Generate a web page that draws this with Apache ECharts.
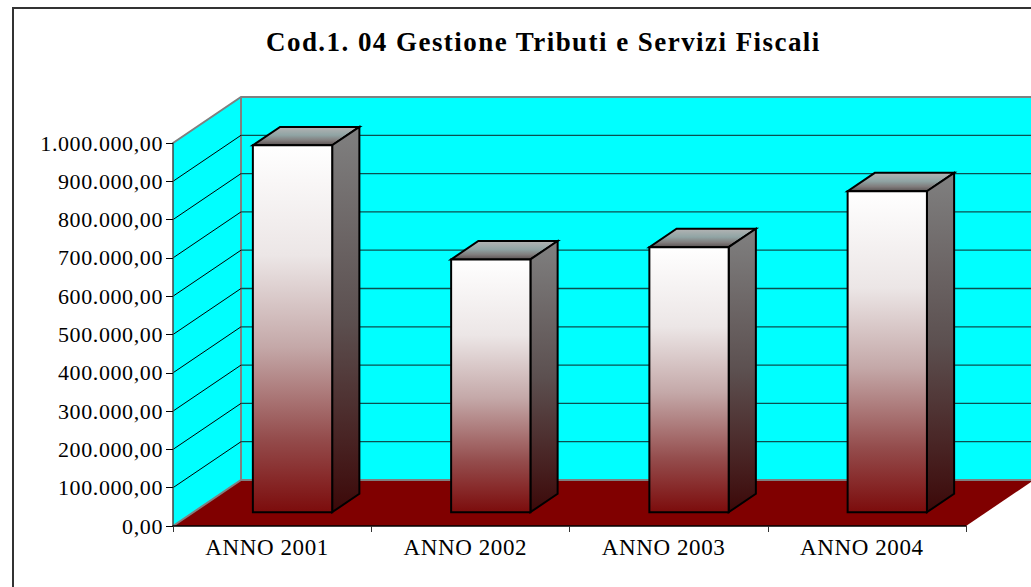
<!DOCTYPE html>
<html>
<head>
<meta charset="utf-8">
<script src="https://cdn.jsdelivr.net/npm/echarts@6/dist/echarts.min.js"></script>
<style>
html, body { margin: 0; padding: 0; background: #fff; overflow: hidden; }
#main { width: 1031px; height: 587px; }
/* the original text is set wider than the font's own spacing */
#main text { letter-spacing: 0.6px; }
#main text[style*="bold"] { letter-spacing: 1.45px; }
</style>
</head>
<body>
<div id="main"></div>
<script>
const titleText = 'Cod.1. 04 Gestione Tributi e Servizi Fiscali'
const categories = ['ANNO 2001', 'ANNO 2002', 'ANNO 2003', 'ANNO 2004']
const barValues = [958000, 660000, 692000, 838000]
const tickValues = [100000, 200000, 300000, 400000, 500000, 600000, 700000, 800000, 900000]
const tickLabels = ['0,00', '100.000,00', '200.000,00', '300.000,00', '400.000,00', '500.000,00',
    '600.000,00', '700.000,00', '800.000,00', '900.000,00', '1.000.000,00']

// fake 3d depth of the chart box, in px
const depthX = 68
const depthY = -46
const fontName = '"Liberation Serif", serif'

function vGrad (stops) {
    return new echarts.graphic.LinearGradient(0, 0, 0, 1, stops)
}

function renderWalls (params, api) {
    const c = params.coordSys
    const left = c.x
    const right = c.x + c.width
    const top = c.y
    const bottom = c.y + c.height
    const edge = { stroke: '#808080', lineWidth: 2, fill: null }
    return {
        type: 'group',
        children: [
            { type: 'polygon', shape: { points: [[left + depthX, top + depthY], [right + depthX, top + depthY], [right + depthX, bottom + depthY], [left + depthX, bottom + depthY]] }, style: { fill: '#00ffff' } },
            { type: 'polygon', shape: { points: [[left, bottom], [left, top], [left + depthX, top + depthY], [left + depthX, bottom + depthY]] }, style: { fill: '#00ffff' } },
            { type: 'polygon', shape: { points: [[left, bottom], [right, bottom], [right + depthX, bottom + depthY], [left + depthX, bottom + depthY]] }, style: { fill: '#800000' } },
            { type: 'polyline', shape: { points: [[left, top], [left + depthX, top + depthY], [right + depthX, top + depthY]] }, style: edge },
            { type: 'polyline', shape: { points: [[left, bottom], [left + depthX, bottom + depthY], [right + depthX, bottom + depthY]] }, style: edge },
            { type: 'line', shape: { x1: left + depthX, y1: top + depthY, x2: left + depthX, y2: bottom + depthY }, style: edge }
        ]
    }
}

function renderGridLine (params, api) {
    const c = params.coordSys
    const y = api.coord([0, api.value(1)])[1]
    const left = c.x
    const right = c.x + c.width
    return {
        type: 'group',
        children: [
            { type: 'line', shape: { x1: left, y1: y, x2: left + depthX, y2: y + depthY }, style: { stroke: '#000', lineWidth: 1 } },
            { type: 'line', shape: { x1: left + depthX, y1: y + depthY, x2: right + depthX, y2: y + depthY }, style: { stroke: '#0b5050', lineWidth: 1.3 } }
        ]
    }
}

function renderBar (params, api) {
    const band = api.size([1, 0])[0]
    const w = band * 0.4
    const shiftX = depthX * 0.3
    const shiftY = depthY * 0.3
    const dx = depthX * 0.4
    const dy = depthY * 0.4
    const topPt = api.coord([api.value(0), api.value(1)])
    const basePt = api.coord([api.value(0), 0])
    const x0 = topPt[0] - w / 2 + shiftX
    const x1 = x0 + w
    const yTop = topPt[1] + shiftY
    const yBase = basePt[1] + shiftY
    const line = { stroke: '#000', lineWidth: 2, lineJoin: 'miter' }
    return {
        type: 'group',
        children: [
            {
                type: 'polygon',
                shape: { points: [[x0, yTop], [x1, yTop], [x1 + dx, yTop + dy], [x0 + dx, yTop + dy]] },
                style: Object.assign({ fill: vGrad([
                    { offset: 0, color: '#b4b4b4' },
                    { offset: 0.45, color: '#90a4a4' },
                    { offset: 0.75, color: '#807c7c' },
                    { offset: 1, color: '#585050' }
                ]) }, line)
            },
            {
                type: 'polygon',
                shape: { points: [[x1, yTop], [x1 + dx, yTop + dy], [x1 + dx, yBase + dy], [x1, yBase]] },
                style: Object.assign({ fill: vGrad([
                    { offset: 0, color: '#808080' },
                    { offset: 0.5, color: '#5c5050' },
                    { offset: 1, color: '#3c0808' }
                ]) }, line)
            },
            {
                type: 'rect',
                shape: { x: x0, y: yTop, width: w, height: yBase - yTop },
                style: Object.assign({ fill: vGrad([
                    { offset: 0, color: '#ffffff' },
                    { offset: 0.3, color: '#ece6e6' },
                    { offset: 0.55, color: '#c4a8a8' },
                    { offset: 0.8, color: '#944c4c' },
                    { offset: 1, color: '#7c0c0c' }
                ]) }, line)
            }
        ]
    }
}

const myChart = echarts.init(document.getElementById('main'), null, { renderer: 'svg' })
myChart.setOption({
    animation: false,
    backgroundColor: '#fff',
    title: {
        text: titleText,
        left: 261,
        top: 23,
        textStyle: { fontFamily: fontName, fontSize: 27, fontWeight: 'bold', color: '#000' }
    },
    grid: { left: 173, right: 65, top: 143, bottom: 61 },
    xAxis: {
        type: 'category',
        data: categories,
        z: 10,
        axisLine: { lineStyle: { color: '#000', width: 1.5 } },
        axisTick: { show: true, length: 6, lineStyle: { color: '#333' } },
        axisLabel: { color: '#000', fontFamily: fontName, fontSize: 23, margin: 10, padding: [0, 10, 0, 0] }
    },
    yAxis: {
        type: 'value',
        min: 0,
        max: 1000000,
        interval: 100000,
        z: 10,
        splitLine: { show: false },
        axisLine: { show: true, lineStyle: { color: '#444', width: 1.5 } },
        axisTick: { show: true, length: 7, lineStyle: { color: '#000' } },
        axisLabel: {
            color: '#000',
            fontFamily: fontName,
            fontSize: 22,
            margin: 10,
            padding: [0, 0, 2, 0],
            formatter: (v, i) => tickLabels[i]
        }
    },
    series: [
        { type: 'custom', z: 1, silent: true, data: [[0, 0]], renderItem: renderWalls },
        { type: 'custom', z: 2, silent: true, data: tickValues.map(v => [0, v]), renderItem: renderGridLine },
        { type: 'custom', z: 3, data: barValues.map((v, i) => [i, v]), renderItem: renderBar }
    ],
    graphic: [{
        type: 'rect',
        z: 100,
        shape: { x: 13, y: 8, width: 1100, height: 700 },
        style: { fill: null, stroke: '#333', lineWidth: 2 }
    }]
})
window.addEventListener('resize', myChart.resize)
</script>
</body>
</html>
